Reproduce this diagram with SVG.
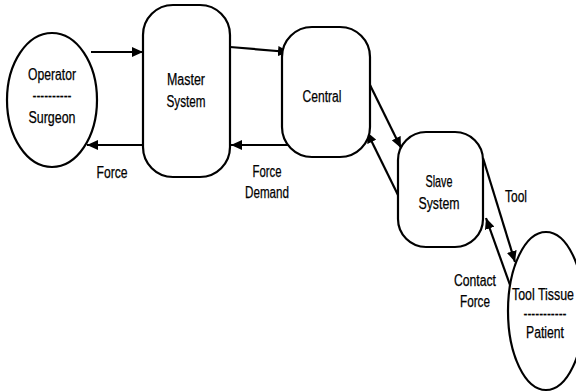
<svg xmlns="http://www.w3.org/2000/svg" width="576" height="392" viewBox="0 0 576 392">
<defs>
<style>
.n{fill:#fff;stroke:#000;stroke-width:2.2}
.c{stroke:#000;stroke-width:2.2;fill:none;marker-end:url(#ah)}
text{font-family:"Liberation Sans",Arial,sans-serif;font-size:16px;fill:#000;stroke:#000;stroke-width:0.25;text-anchor:middle}
</style>
<marker id="ah" markerUnits="userSpaceOnUse" markerWidth="12" markerHeight="10" refX="11" refY="5" orient="auto">
<path d="M0,0 L11,5 L0,10 z" fill="#000"/>
</marker>
</defs>
<rect width="576" height="392" fill="#fff"/>
<g id="connectors">
<line class="c" x1="91" y1="52" x2="143" y2="52"/>
<line class="c" x1="143" y1="145" x2="87" y2="145"/>
<line class="c" x1="230" y1="47" x2="289" y2="52"/>
<line class="c" x1="289" y1="145" x2="231" y2="145"/>
<line class="c" x1="370" y1="85" x2="401" y2="148"/>
<line class="c" x1="398" y1="195" x2="367" y2="132"/>
<line class="c" x1="483" y1="158" x2="515" y2="262"/>
<line class="c" x1="510" y1="285" x2="486" y2="218"/>
</g>
<g id="operator">
<ellipse class="n" cx="52" cy="100" rx="45" ry="67"/>
<text x="52" y="80" textLength="48" lengthAdjust="spacingAndGlyphs">Operator</text>
<text x="52" y="101" textLength="39" lengthAdjust="spacingAndGlyphs">----------</text>
<text x="52" y="123" textLength="47" lengthAdjust="spacingAndGlyphs">Surgeon</text>
</g>
<g id="master">
<rect class="n" x="143" y="5" width="87" height="172" rx="30" ry="30"/>
<text x="186" y="85" textLength="38" lengthAdjust="spacingAndGlyphs">Master</text>
<text x="186" y="107" textLength="39" lengthAdjust="spacingAndGlyphs">System</text>
</g>
<g id="central">
<rect class="n" x="282" y="27" width="88" height="130" rx="30" ry="30"/>
<text x="322" y="102" textLength="39" lengthAdjust="spacingAndGlyphs">Central</text>
</g>
<g id="slave">
<rect class="n" x="398" y="132" width="85" height="115" rx="28" ry="28"/>
<text x="439" y="187" textLength="27" lengthAdjust="spacingAndGlyphs">Slave</text>
<text x="439" y="209" textLength="41" lengthAdjust="spacingAndGlyphs">System</text>
</g>
<g id="tooltissue">
<ellipse class="n" cx="546" cy="311" rx="38" ry="79"/>
<text x="543" y="300" textLength="62" lengthAdjust="spacingAndGlyphs">Tool Tissue</text>
<text x="545" y="319" textLength="43" lengthAdjust="spacingAndGlyphs">-----------</text>
<text x="545" y="338" textLength="38" lengthAdjust="spacingAndGlyphs">Patient</text>
</g>
<g id="labels">
<text x="112" y="178" textLength="31" lengthAdjust="spacingAndGlyphs">Force</text>
<text x="267" y="177" textLength="29" lengthAdjust="spacingAndGlyphs">Force</text>
<text x="267" y="198" textLength="44" lengthAdjust="spacingAndGlyphs">Demand</text>
<text x="516" y="202" textLength="22" lengthAdjust="spacingAndGlyphs">Tool</text>
<text x="475" y="286" textLength="42" lengthAdjust="spacingAndGlyphs">Contact</text>
<text x="475" y="307" textLength="30" lengthAdjust="spacingAndGlyphs">Force</text>
</g>
</svg>
